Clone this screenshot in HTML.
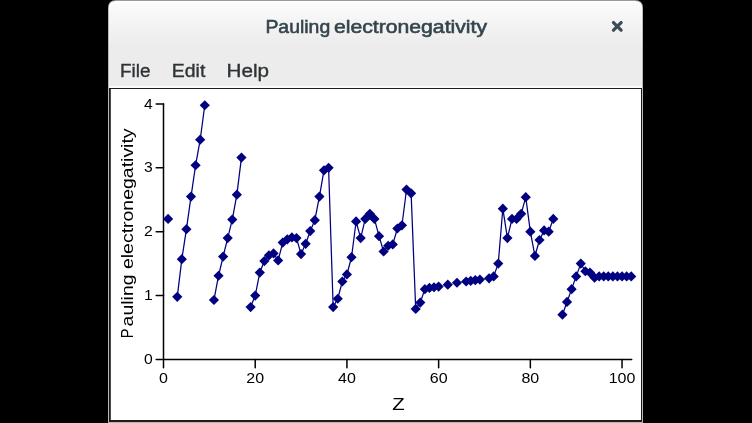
<!DOCTYPE html>
<html><head><meta charset="utf-8"><style>
html,body{margin:0;padding:0;background:#000;width:752px;height:423px;overflow:hidden}
svg{display:block;will-change:transform}
text{font-family:"Liberation Sans",sans-serif}
</style></head><body>
<svg width="752" height="423" viewBox="0 0 752 423">
<defs>
<linearGradient id="hb" gradientUnits="userSpaceOnUse" x1="0" y1="0" x2="0" y2="46">
<stop offset="0" stop-color="#fcfcfc"/><stop offset="1" stop-color="#ececec"/>
</linearGradient>
</defs>
<rect width="752" height="423" fill="#000"/>
<!-- window -->
<path d="M108 423V8Q108 0 116 0H635Q643 0 643 8V423Z" fill="#9a9a9a"/>
<path d="M108.7 423V8.3Q108.7 1 116 1H635Q642.3 1 642.3 8.3V423Z" fill="#ffffff"/>
<path d="M109.3 423V8.6Q109.3 2 116 2H635Q641.7 2 641.7 8.6V423Z" fill="url(#hb)"/>
<rect x="109.2" y="46" width="532.6" height="40" fill="#ececec"/>
<rect x="109.2" y="86" width="532.6" height="2" fill="#fbfbfb"/>
<rect x="108" y="422" width="535" height="1" fill="#b5b5b5"/>
<rect x="109" y="88" width="533" height="334" fill="#1c1c1c"/>
<rect x="110.8" y="89" width="530.2" height="331" fill="#ffffff"/>
<g font-size="17.8" fill="#34444c" stroke="#34444c" stroke-width="0.55">
<text x="265.4" y="32.9" textLength="64.8" lengthAdjust="spacingAndGlyphs">Pauling</text>
<text x="334" y="32.9" textLength="153" lengthAdjust="spacingAndGlyphs">electronegativity</text>
</g>
<path d="M613.5 22.6L621.1 30.2M621.1 22.6L613.5 30.2" stroke="#3c4d56" stroke-width="3.3" stroke-linecap="round"/>
<g font-size="18" fill="#2e3436" stroke="#2e3436" stroke-width="0.35">
<text x="120.0" y="77.1" textLength="30.5" lengthAdjust="spacingAndGlyphs">File</text>
<text x="171.8" y="77.1" textLength="33.5" lengthAdjust="spacingAndGlyphs">Edit</text>
<text x="226.6" y="77.1" textLength="42.5" lengthAdjust="spacingAndGlyphs">Help</text>
</g>
<!-- axes -->
<g stroke="#000" stroke-width="1.5" stroke-linecap="round" fill="none">
<line x1="163.5" y1="103.95999999999998" x2="163.5" y2="359.4"/>
<line x1="163.5" y1="359.4" x2="631.7" y2="359.4"/>
<line x1="156.2" y1="359.40" x2="163.50" y2="359.40"/><line x1="156.2" y1="295.54" x2="163.50" y2="295.54"/><line x1="156.2" y1="231.68" x2="163.50" y2="231.68"/><line x1="156.2" y1="167.82" x2="163.50" y2="167.82"/><line x1="156.2" y1="103.96" x2="163.50" y2="103.96"/><line x1="163.50" y1="359.40" x2="163.50" y2="367.8"/><line x1="255.21" y1="359.40" x2="255.21" y2="367.8"/><line x1="346.92" y1="359.40" x2="346.92" y2="367.8"/><line x1="438.63" y1="359.40" x2="438.63" y2="367.8"/><line x1="530.34" y1="359.40" x2="530.34" y2="367.8"/><line x1="622.05" y1="359.40" x2="622.05" y2="367.8"/>
</g>
<g font-size="14" fill="#000">
<text transform="translate(152.6 364.00) scale(1.12 1)" text-anchor="end">0</text><text transform="translate(152.6 300.14) scale(1.12 1)" text-anchor="end">1</text><text transform="translate(152.6 236.28) scale(1.12 1)" text-anchor="end">2</text><text transform="translate(152.6 172.42) scale(1.12 1)" text-anchor="end">3</text><text transform="translate(152.6 108.56) scale(1.12 1)" text-anchor="end">4</text>
<text transform="translate(163.50 382.5) scale(1.144 1)" text-anchor="middle">0</text><text transform="translate(255.21 382.5) scale(1.144 1)" text-anchor="middle">20</text><text transform="translate(346.92 382.5) scale(1.144 1)" text-anchor="middle">40</text><text transform="translate(438.63 382.5) scale(1.144 1)" text-anchor="middle">60</text><text transform="translate(530.34 382.5) scale(1.144 1)" text-anchor="middle">80</text><text transform="translate(622.05 382.5) scale(1.144 1)" text-anchor="middle">100</text>
</g>
<text transform="translate(398.6 409.8) scale(1.2 1)" text-anchor="middle" font-size="17" fill="#000">Z</text>
<g font-size="17" fill="#000">
<text transform="translate(133.2 338.3) rotate(-90) scale(0.85 1)">P</text>
<text transform="translate(133.2 326.4) rotate(-90)" textLength="198" lengthAdjust="spacingAndGlyphs">auling electronegativity</text>
</g>
<g stroke="#000080" stroke-width="1.25" fill="none" stroke-linejoin="round"><polyline points="177.26,296.82 181.84,259.14 186.43,229.13 191.01,196.56 195.60,165.27 200.18,139.72 204.77,105.24"/><polyline points="213.94,300.01 218.53,275.74 223.11,256.59 227.70,238.07 232.28,219.55 236.87,194.64 241.45,157.60"/><polyline points="250.62,307.03 255.21,295.54 259.80,272.55 264.38,261.06 268.97,255.31 273.55,253.39 278.14,260.42 282.72,242.54 287.31,239.34 291.89,237.43 296.48,238.07 301.06,254.03 305.65,243.81 310.24,231.04 314.82,220.19 319.41,196.56 323.99,170.37 328.58,167.82 333.16,307.03 337.75,298.73 342.33,281.49 346.92,274.47 351.51,257.22 356.09,221.46 360.68,238.07 365.26,218.91 369.85,213.80 374.43,218.91 379.02,236.15 383.60,251.48 388.19,245.73 392.77,244.45 397.36,228.49 401.95,225.29 406.53,189.53 411.12,193.36 415.70,308.95 420.29,302.56 424.87,289.15 429.46,287.88 434.04,287.24 438.63,286.60"/><polyline points="466.14,281.49 470.73,280.85 475.31,280.21 479.90,279.57"/><polyline points="489.07,278.30 493.66,276.38 498.24,263.61 502.83,208.69 507.41,238.07 512.00,218.91 516.58,218.91 521.17,213.80 525.75,197.20 530.34,231.68 534.93,255.95 539.51,239.98 544.10,230.40 548.68,231.68 553.27,218.91"/><polyline points="562.44,314.70 567.02,301.93 571.61,289.15 576.19,276.38 580.78,263.61 585.37,271.27 589.95,272.55 594.54,277.66 599.12,276.38 603.71,276.38 608.29,276.38 612.88,276.38 617.46,276.38 622.05,276.38 626.64,276.38 631.22,276.38"/></g>
<g fill="#000080"><path d="M168.09 213.81l5.10 5.10l-5.10 5.10l-5.10 -5.10z"/><path d="M177.26 291.72l5.10 5.10l-5.10 5.10l-5.10 -5.10z"/><path d="M181.84 254.04l5.10 5.10l-5.10 5.10l-5.10 -5.10z"/><path d="M186.43 224.03l5.10 5.10l-5.10 5.10l-5.10 -5.10z"/><path d="M191.01 191.46l5.10 5.10l-5.10 5.10l-5.10 -5.10z"/><path d="M195.60 160.17l5.10 5.10l-5.10 5.10l-5.10 -5.10z"/><path d="M200.18 134.62l5.10 5.10l-5.10 5.10l-5.10 -5.10z"/><path d="M204.77 100.14l5.10 5.10l-5.10 5.10l-5.10 -5.10z"/><path d="M213.94 294.91l5.10 5.10l-5.10 5.10l-5.10 -5.10z"/><path d="M218.53 270.64l5.10 5.10l-5.10 5.10l-5.10 -5.10z"/><path d="M223.11 251.49l5.10 5.10l-5.10 5.10l-5.10 -5.10z"/><path d="M227.70 232.97l5.10 5.10l-5.10 5.10l-5.10 -5.10z"/><path d="M232.28 214.45l5.10 5.10l-5.10 5.10l-5.10 -5.10z"/><path d="M236.87 189.54l5.10 5.10l-5.10 5.10l-5.10 -5.10z"/><path d="M241.45 152.50l5.10 5.10l-5.10 5.10l-5.10 -5.10z"/><path d="M250.62 301.93l5.10 5.10l-5.10 5.10l-5.10 -5.10z"/><path d="M255.21 290.44l5.10 5.10l-5.10 5.10l-5.10 -5.10z"/><path d="M259.80 267.45l5.10 5.10l-5.10 5.10l-5.10 -5.10z"/><path d="M264.38 255.96l5.10 5.10l-5.10 5.10l-5.10 -5.10z"/><path d="M268.97 250.21l5.10 5.10l-5.10 5.10l-5.10 -5.10z"/><path d="M273.55 248.29l5.10 5.10l-5.10 5.10l-5.10 -5.10z"/><path d="M278.14 255.32l5.10 5.10l-5.10 5.10l-5.10 -5.10z"/><path d="M282.72 237.44l5.10 5.10l-5.10 5.10l-5.10 -5.10z"/><path d="M287.31 234.24l5.10 5.10l-5.10 5.10l-5.10 -5.10z"/><path d="M291.89 232.33l5.10 5.10l-5.10 5.10l-5.10 -5.10z"/><path d="M296.48 232.97l5.10 5.10l-5.10 5.10l-5.10 -5.10z"/><path d="M301.06 248.93l5.10 5.10l-5.10 5.10l-5.10 -5.10z"/><path d="M305.65 238.71l5.10 5.10l-5.10 5.10l-5.10 -5.10z"/><path d="M310.24 225.94l5.10 5.10l-5.10 5.10l-5.10 -5.10z"/><path d="M314.82 215.09l5.10 5.10l-5.10 5.10l-5.10 -5.10z"/><path d="M319.41 191.46l5.10 5.10l-5.10 5.10l-5.10 -5.10z"/><path d="M323.99 165.27l5.10 5.10l-5.10 5.10l-5.10 -5.10z"/><path d="M328.58 162.72l5.10 5.10l-5.10 5.10l-5.10 -5.10z"/><path d="M333.16 301.93l5.10 5.10l-5.10 5.10l-5.10 -5.10z"/><path d="M337.75 293.63l5.10 5.10l-5.10 5.10l-5.10 -5.10z"/><path d="M342.33 276.39l5.10 5.10l-5.10 5.10l-5.10 -5.10z"/><path d="M346.92 269.37l5.10 5.10l-5.10 5.10l-5.10 -5.10z"/><path d="M351.51 252.12l5.10 5.10l-5.10 5.10l-5.10 -5.10z"/><path d="M356.09 216.36l5.10 5.10l-5.10 5.10l-5.10 -5.10z"/><path d="M360.68 232.97l5.10 5.10l-5.10 5.10l-5.10 -5.10z"/><path d="M365.26 213.81l5.10 5.10l-5.10 5.10l-5.10 -5.10z"/><path d="M369.85 208.70l5.10 5.10l-5.10 5.10l-5.10 -5.10z"/><path d="M374.43 213.81l5.10 5.10l-5.10 5.10l-5.10 -5.10z"/><path d="M379.02 231.05l5.10 5.10l-5.10 5.10l-5.10 -5.10z"/><path d="M383.60 246.38l5.10 5.10l-5.10 5.10l-5.10 -5.10z"/><path d="M388.19 240.63l5.10 5.10l-5.10 5.10l-5.10 -5.10z"/><path d="M392.77 239.35l5.10 5.10l-5.10 5.10l-5.10 -5.10z"/><path d="M397.36 223.39l5.10 5.10l-5.10 5.10l-5.10 -5.10z"/><path d="M401.95 220.19l5.10 5.10l-5.10 5.10l-5.10 -5.10z"/><path d="M406.53 184.43l5.10 5.10l-5.10 5.10l-5.10 -5.10z"/><path d="M411.12 188.26l5.10 5.10l-5.10 5.10l-5.10 -5.10z"/><path d="M415.70 303.85l5.10 5.10l-5.10 5.10l-5.10 -5.10z"/><path d="M420.29 297.46l5.10 5.10l-5.10 5.10l-5.10 -5.10z"/><path d="M424.87 284.05l5.10 5.10l-5.10 5.10l-5.10 -5.10z"/><path d="M429.46 282.78l5.10 5.10l-5.10 5.10l-5.10 -5.10z"/><path d="M434.04 282.14l5.10 5.10l-5.10 5.10l-5.10 -5.10z"/><path d="M438.63 281.50l5.10 5.10l-5.10 5.10l-5.10 -5.10z"/><path d="M447.80 279.58l5.10 5.10l-5.10 5.10l-5.10 -5.10z"/><path d="M456.97 277.67l5.10 5.10l-5.10 5.10l-5.10 -5.10z"/><path d="M466.14 276.39l5.10 5.10l-5.10 5.10l-5.10 -5.10z"/><path d="M470.73 275.75l5.10 5.10l-5.10 5.10l-5.10 -5.10z"/><path d="M475.31 275.11l5.10 5.10l-5.10 5.10l-5.10 -5.10z"/><path d="M479.90 274.47l5.10 5.10l-5.10 5.10l-5.10 -5.10z"/><path d="M489.07 273.20l5.10 5.10l-5.10 5.10l-5.10 -5.10z"/><path d="M493.66 271.28l5.10 5.10l-5.10 5.10l-5.10 -5.10z"/><path d="M498.24 258.51l5.10 5.10l-5.10 5.10l-5.10 -5.10z"/><path d="M502.83 203.59l5.10 5.10l-5.10 5.10l-5.10 -5.10z"/><path d="M507.41 232.97l5.10 5.10l-5.10 5.10l-5.10 -5.10z"/><path d="M512.00 213.81l5.10 5.10l-5.10 5.10l-5.10 -5.10z"/><path d="M516.58 213.81l5.10 5.10l-5.10 5.10l-5.10 -5.10z"/><path d="M521.17 208.70l5.10 5.10l-5.10 5.10l-5.10 -5.10z"/><path d="M525.75 192.10l5.10 5.10l-5.10 5.10l-5.10 -5.10z"/><path d="M530.34 226.58l5.10 5.10l-5.10 5.10l-5.10 -5.10z"/><path d="M534.93 250.85l5.10 5.10l-5.10 5.10l-5.10 -5.10z"/><path d="M539.51 234.88l5.10 5.10l-5.10 5.10l-5.10 -5.10z"/><path d="M544.10 225.30l5.10 5.10l-5.10 5.10l-5.10 -5.10z"/><path d="M548.68 226.58l5.10 5.10l-5.10 5.10l-5.10 -5.10z"/><path d="M553.27 213.81l5.10 5.10l-5.10 5.10l-5.10 -5.10z"/><path d="M562.44 309.60l5.10 5.10l-5.10 5.10l-5.10 -5.10z"/><path d="M567.02 296.83l5.10 5.10l-5.10 5.10l-5.10 -5.10z"/><path d="M571.61 284.05l5.10 5.10l-5.10 5.10l-5.10 -5.10z"/><path d="M576.19 271.28l5.10 5.10l-5.10 5.10l-5.10 -5.10z"/><path d="M580.78 258.51l5.10 5.10l-5.10 5.10l-5.10 -5.10z"/><path d="M585.37 266.17l5.10 5.10l-5.10 5.10l-5.10 -5.10z"/><path d="M589.95 267.45l5.10 5.10l-5.10 5.10l-5.10 -5.10z"/><path d="M594.54 272.56l5.10 5.10l-5.10 5.10l-5.10 -5.10z"/><path d="M599.12 271.28l5.10 5.10l-5.10 5.10l-5.10 -5.10z"/><path d="M603.71 271.28l5.10 5.10l-5.10 5.10l-5.10 -5.10z"/><path d="M608.29 271.28l5.10 5.10l-5.10 5.10l-5.10 -5.10z"/><path d="M612.88 271.28l5.10 5.10l-5.10 5.10l-5.10 -5.10z"/><path d="M617.46 271.28l5.10 5.10l-5.10 5.10l-5.10 -5.10z"/><path d="M622.05 271.28l5.10 5.10l-5.10 5.10l-5.10 -5.10z"/><path d="M626.64 271.28l5.10 5.10l-5.10 5.10l-5.10 -5.10z"/><path d="M631.22 271.28l5.10 5.10l-5.10 5.10l-5.10 -5.10z"/></g>
</svg>
</body></html>
